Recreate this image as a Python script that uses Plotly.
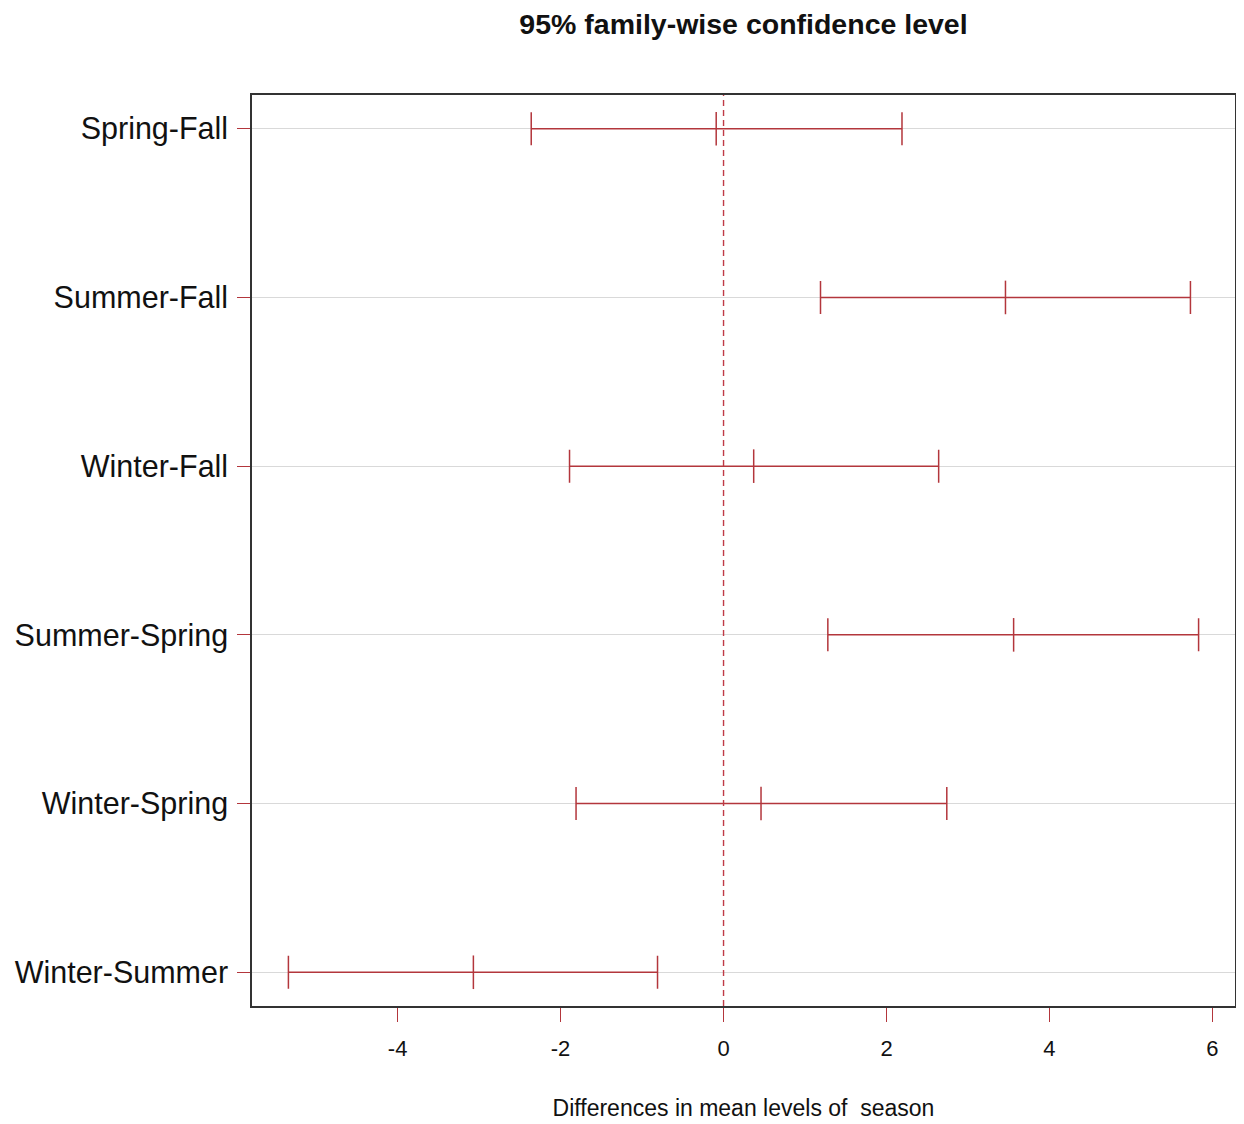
import plotly.graph_objects as go

comparisons = ["Spring-Fall", "Summer-Fall", "Winter-Fall",
               "Summer-Spring", "Winter-Spring", "Winter-Summer"]
diff = [-0.09, 3.46, 0.37, 3.56, 0.46, -3.07]
lwr = [-2.36, 1.19, -1.89, 1.28, -1.81, -5.34]
upr = [2.19, 5.73, 2.64, 5.83, 2.74, -0.81]
x_ticks = [-4, -2, 0, 2, 4, 6]
x_ticktext = [str(v) for v in x_ticks]
zero_ref = 0

n = len(comparisons)
ypos = list(range(n, 0, -1))
red = "#B3363C"
red_dash = "#BF3A46"

fig = go.Figure()
fig.add_trace(go.Scatter(
    x=diff, y=ypos, mode="markers",
    marker=dict(symbol="line-ns", size=24, line=dict(color=red, width=1.5), color=red),
    error_x=dict(type="data", symmetric=False,
                 array=[u - d for u, d in zip(upr, diff)],
                 arrayminus=[d - l for d, l in zip(diff, lwr)],
                 color=red, thickness=1.5, width=16.5),
    showlegend=False, hoverinfo="skip",
))
fig.add_vline(x=zero_ref, line=dict(color=red_dash, width=1.4, dash="6px,4px"))

xmin, xmax = min(lwr), max(upr)
pad = 0.04 * (xmax - xmin)
font = "Liberation Sans, Arial, sans-serif"

# page body has an 8px default margin, so the figure is shrunk by 8px
fig.update_layout(
    width=1236, height=1116,
    margin=dict(l=242, r=7, t=87, b=117),
    paper_bgcolor="white", plot_bgcolor="white",
    font=dict(family=font, color="#111"),
    title=dict(text="<b>95% family-wise confidence level</b>",
               x=0.5, xref="paper", y=1 - 16 / 1116, yref="container",
               xanchor="center", yanchor="middle",
               font=dict(size=28.5, family=font, color="#111")),
    xaxis=dict(range=[xmin - pad, xmax + pad], tickvals=x_ticks, ticktext=x_ticktext,
               ticks="outside", ticklen=14, tickcolor=red, tickwidth=1.3,
               ticklabelstandoff=8,
               showline=True, mirror=True, linecolor="#333", linewidth=1.5,
               showgrid=False, zeroline=False,
               tickfont=dict(size=22, color="#111"),
               title=dict(text="Differences in mean levels of  season",
                          font=dict(size=23, color="#111"), standoff=40)),
    yaxis=dict(range=[0.8, n + 0.2], tickvals=ypos, ticktext=comparisons,
               ticks="outside", ticklen=13, tickcolor=red, tickwidth=1.3,
               ticklabelstandoff=3,
               showline=True, mirror=True, linecolor="#333", linewidth=1.5,
               showgrid=True, gridcolor="#D9D9D9", gridwidth=1.3, zeroline=False,
               tickfont=dict(size=30.5, color="#111")),
)

fig.write_html("out.html")
